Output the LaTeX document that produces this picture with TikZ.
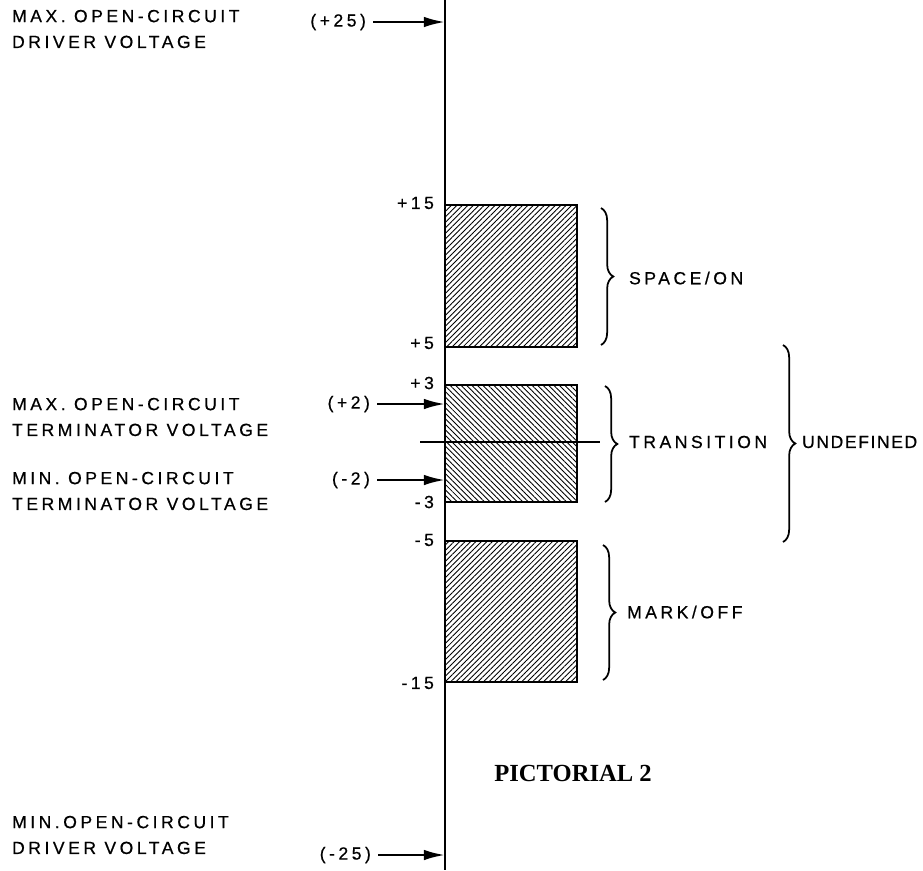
\documentclass[tikz,border=0pt]{standalone}
\usepackage{fontspec}
\setmainfont{Liberation Sans}
\newfontfamily\lblfont[LetterSpace=20, FakeBold=0.6]{Liberation Sans}
\newfontfamily\capfont{Liberation Serif}
\usetikzlibrary{arrows.meta, positioning, patterns.meta, decorations.pathreplacing}

\begin{document}
\begin{tikzpicture}[
    x=0.02cm, y=-0.02cm,
    txt/.style={font=\lblfont\fontsize{10}{14.7}\selectfont, inner sep=1pt, align=left},
    val/.style={font=\lblfont\fontsize{10}{12}\selectfont, inner sep=1pt, anchor=east},
    ptr/.style={-{Latex[length=12pt, width=6pt]}, line width=1.4pt, shorten <=3pt},
    zone/.style={draw, line width=1.2pt},
    fwd/.style={pattern={Lines[angle=45, distance=2.2pt, line width=0.5pt]}},
    bwd/.style={pattern={Lines[angle=-45, distance=2.2pt, line width=0.5pt]}},
    brc/.style={decorate, decoration={brace, amplitude=7pt}, line width=1pt},
  ]
  \useasboundingbox (0,0) rectangle (923,870);

  % voltage axis
  \coordinate (top) at (445,0);
  \coordinate (bot) at (445,870);
  \draw[line width=1.4pt] (top) -- (bot);

  % hatched zones
  \draw[zone, fwd] (445,205) rectangle (577,347);
  \draw[zone, bwd] (445,385) rectangle (577,502);
  \draw[zone, fwd] (445,541) rectangle (577,682);

  % zero line
  \coordinate (z1) at (420,442);
  \coordinate (z2) at (600,442);
  \draw[line width=1.1pt] (z1) -- (z2);

  % levels
  \node[val] (v15) at (436,203) {+15};
  \node[val] (v5) at (436,343) {+5};
  \node[val] (v3) at (436,383) {+3};
  \node[val] (vm3) at (436,502) {-3};
  \node[val] (vm5) at (436,540) {-5};
  \node[val] (vm15) at (436,683) {-15};

  % pointers
  \node[val] (p25) at (368,22) {(+25)};
  \node[val] (p2) at (372,404) {(+2)};
  \node[val] (m2) at (372,480) {(-2)};
  \node[val] (m25) at (373,855) {(-25)};
  \coordinate (a25) at (445,22);
  \coordinate (a2) at (445,404);
  \coordinate (b2) at (445,480);
  \coordinate (b25) at (445,855);
  \draw[ptr] (p25) -- (a25);
  \draw[ptr] (p2) -- (a2);
  \draw[ptr] (m2) -- (b2);
  \draw[ptr] (m25) -- (b25);

  % left captions
  \node[txt, anchor=west] (maxdrv) at (10,29) {MAX. OPEN-CIRCUIT\\DRIVER VOLTAGE};
  \node[txt, anchor=west] (maxterm) at (10,417) {MAX. OPEN-CIRCUIT\\TERMINATOR VOLTAGE};
  \node[txt, anchor=west] (minterm) at (10,491) {MIN. OPEN-CIRCUIT\\TERMINATOR VOLTAGE};
  \node[txt, anchor=west] (mindrv) at (10,835) {MIN.OPEN-CIRCUIT\\DRIVER VOLTAGE};

  % braces
  \coordinate (s1) at (601,208);
  \coordinate (s2) at (601,345);
  \coordinate (t1) at (605,386);
  \coordinate (t2) at (605,502);
  \coordinate (k1) at (603,545);
  \coordinate (k2) at (603,680);
  \coordinate (u1) at (783,345);
  \coordinate (u2) at (783,542);
  \draw[brc] (s1) -- (s2);
  \draw[brc] (t1) -- (t2);
  \draw[brc] (k1) -- (k2);
  \draw[brc] (u1) -- (u2);
  \node[txt, anchor=west] (space) at (627,278) {SPACE/ON};
  \node[txt, anchor=west] (trans) at (627,442) {TRANSITION};
  \node[txt, anchor=west] (mark) at (625,612) {MARK/OFF};
  \node[txt, anchor=west, font=\lblfont\addfontfeature{LetterSpace=9}\fontsize{10}{12}\selectfont] (undef) at (800,442) {UNDEFINED};

  \node[font=\capfont\bfseries\fontsize{14}{16}\selectfont] (title) at (573,773) {PICTORIAL 2};
\end{tikzpicture}
\end{document}
